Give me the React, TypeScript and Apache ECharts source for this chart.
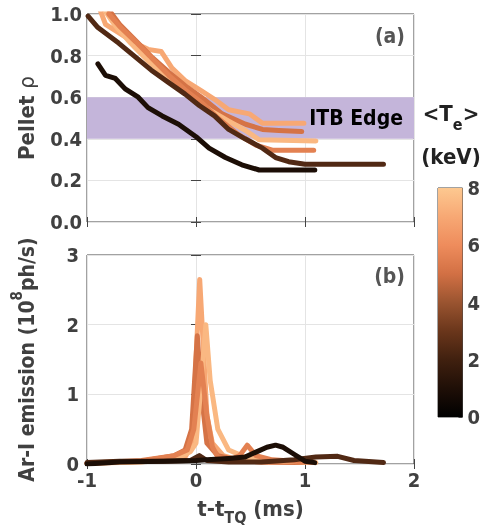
import React, { useEffect, useRef } from "react";
import * as echarts from "echarts";

// ---- data ----
const X_TICKS = { min: -1, max: 2, interval: 1 };
const RHO_AXIS = { min: 0, max: 1, interval: 0.2 };
const EMIS_AXIS = { min: 0, max: 3, interval: 1 };
const TE_AXIS = { min: 0, max: 8, interval: 2 };
const ITB_BAND = [0.4, 0.6];

// colormap (Te 0..8 keV)
const COLORMAP = ["#000000", "#1f0f07", "#40200f", "#6a361b", "#9a5430", "#d27044", "#ee8c5c", "#f7a874", "#fdc890"];

// Te of each shot (keV)
const teValues = [7.0, 5.1, 7.5, 5.6, 2.4, 0.9];
const shotNames = ["A", "B", "C", "D", "E", "F"];

// Pellet rho vs t - t_TQ (ms)
const rhoA = [[-0.88, 1.02], [-0.83, 0.95], [-0.71, 0.91], [-0.56, 0.86], [-0.44, 0.83], [-0.32, 0.82], [-0.22, 0.74], [-0.1, 0.68], [0.05, 0.63], [0.17, 0.59], [0.3, 0.54], [0.49, 0.52], [0.61, 0.475], [0.99, 0.475]];
const rhoB = [[-0.8, 1.02], [-0.7, 0.95], [-0.55, 0.87], [-0.4, 0.79], [-0.25, 0.72], [-0.1, 0.655], [0.05, 0.6], [0.24, 0.52], [0.455, 0.47], [0.61, 0.445], [0.76, 0.44], [0.97, 0.435]];
const rhoC = [[-0.84, 1.02], [-0.75, 0.95], [-0.6, 0.86], [-0.45, 0.78], [-0.3, 0.71], [-0.15, 0.645], [0, 0.585], [0.15, 0.53], [0.3, 0.485], [0.455, 0.44], [0.58, 0.395], [1.1, 0.39]];
const rhoD = [[-0.8, 1.0], [-0.7, 0.94], [-0.55, 0.865], [-0.4, 0.785], [-0.25, 0.705], [-0.1, 0.635], [0.05, 0.575], [0.2, 0.5], [0.39, 0.42], [0.55, 0.37], [0.7, 0.345], [1.08, 0.345]];
const rhoE = [[-0.99, 0.99], [-0.9, 0.935], [-0.71, 0.86], [-0.56, 0.795], [-0.41, 0.73], [-0.25, 0.67], [-0.1, 0.615], [0.03, 0.56], [0.17, 0.51], [0.3, 0.445], [0.45, 0.4], [0.61, 0.355], [0.73, 0.31], [0.85, 0.29], [1.0, 0.278], [1.72, 0.278]];
const rhoF = [[-0.9, 0.76], [-0.83, 0.705], [-0.74, 0.69], [-0.65, 0.64], [-0.53, 0.6], [-0.44, 0.55], [-0.31, 0.51], [-0.16, 0.47], [0.0, 0.41], [0.12, 0.355], [0.27, 0.31], [0.42, 0.275], [0.58, 0.25], [1.09, 0.25]];

// Ar-I emission (1e8 ph/s)
const emisA = [[-1, 0.01], [-0.6, 0.03], [-0.3, 0.05], [-0.1, 0.1], [-0.03, 0.3], [0.0, 1.5], [0.034, 2.65], [0.07, 1.6], [0.1, 0.7], [0.15, 0.3], [0.25, 0.12], [0.4, 0.05], [0.6, 0.03], [0.99, 0.02]];
const emisB = [[-1, 0.01], [-0.5, 0.04], [-0.2, 0.12], [-0.1, 0.2], [-0.04, 0.5], [0.012, 1.84], [0.05, 1.0], [0.1, 0.3], [0.2, 0.12], [0.4, 0.05], [0.6, 0.03], [0.97, 0.02]];
const emisC = [[-1, 0.01], [-0.5, 0.03], [-0.15, 0.1], [-0.05, 0.18], [0.0, 0.3], [0.05, 1.2], [0.09, 2.0], [0.13, 1.2], [0.2, 0.5], [0.3, 0.2], [0.45, 0.1], [0.7, 0.05], [1.1, 0.02]];
const emisD = [[-1, 0.01], [-0.5, 0.05], [-0.2, 0.12], [-0.08, 0.2], [-0.02, 0.5], [0.045, 1.45], [0.1, 0.7], [0.15, 0.25], [0.2, 0.1], [0.3, 0.05], [0.4, 0.12], [0.47, 0.27], [0.55, 0.12], [0.7, 0.06], [0.9, 0.04], [1.08, 0.02]];
const emisE = [[-1, 0.02], [-0.7, 0.04], [-0.3, 0.04], [-0.05, 0.05], [0.03, 0.12], [0.1, 0.05], [0.3, 0.03], [0.6, 0.03], [0.9, 0.06], [1.1, 0.1], [1.3, 0.11], [1.45, 0.05], [1.72, 0.02]];
const emisF = [[-1, 0.0], [-0.7, 0.03], [-0.3, 0.04], [0, 0.05], [0.1, 0.06], [0.3, 0.08], [0.45, 0.1], [0.55, 0.17], [0.65, 0.24], [0.73, 0.27], [0.8, 0.24], [0.9, 0.14], [1.0, 0.04], [1.09, 0.02]];

const rhoSets = [rhoA, rhoB, rhoC, rhoD, rhoE, rhoF];
const emisSets = [emisA, emisB, emisC, emisD, emisE, emisF];
const colorbarValue = [TE_AXIS.max];

const FONT = "'Liberation Sans Narrow', 'DejaVu Sans Condensed', 'Liberation Sans', sans-serif";
const TXT = "#404040";
const TICK_FS = 20;

export default function App() {
  const ref = useRef<HTMLDivElement>(null);
  useEffect(() => {
    if (!ref.current) return;
    const chart = echarts.init(ref.current, null, { renderer: "svg" });
    const colorFor = (te: number) => echarts.color.lerp(te / 8, COLORMAP) as string;

    const tickStyle = { show: true, inside: true, length: 5, lineStyle: { color: "#444", width: 1 } };
    const split = { show: true, lineStyle: { color: "#e4e4e4", width: 1 } };
    const gridBase = { left: 87, right: 69, show: true, borderColor: "#444", borderWidth: 1, backgroundColor: "transparent", containLabel: false };
    const tickLabel = { color: TXT, fontSize: TICK_FS, fontWeight: "bold", fontFamily: FONT };

    const lineSeries: any[] = [];
    rhoSets.forEach((d, i) => {
      lineSeries.push({
        type: "line", name: "rho" + shotNames[i], xAxisIndex: 0, yAxisIndex: 0, data: d,
        showSymbol: false, symbol: "none", clip: true, z: 3,
        lineStyle: { width: 5, color: colorFor(teValues[i]), cap: "round", join: "round" },
      });
    });
    emisSets.forEach((d, i) => {
      lineSeries.push({
        type: "line", name: "emis" + shotNames[i], xAxisIndex: 1, yAxisIndex: 2, data: d,
        showSymbol: false, symbol: "none", clip: true, z: 3,
        lineStyle: { width: 5, color: colorFor(teValues[i]), cap: "round", join: "round" },
      });
    });

    const stops = COLORMAP.map((c, i) => ({ offset: i / (COLORMAP.length - 1), color: c }));

    chart.setOption({
      animation: false,
      textStyle: { fontFamily: FONT },
      grid: [
        { ...gridBase, top: 14, height: 208 },
        { ...gridBase, top: 255, height: 209 },
        { left: 438, width: 26, top: 188, height: 229, show: true, borderColor: "#444", borderWidth: 1 },
      ],
      xAxis: [
        { gridIndex: 0, type: "value", ...X_TICKS, axisLabel: { show: false }, axisTick: tickStyle, axisLine: { show: false }, splitLine: split },
        {
          gridIndex: 1, type: "value", ...X_TICKS, axisTick: tickStyle, axisLine: { show: false }, splitLine: split,
          axisLabel: { ...tickLabel, margin: 6 },
          name: "{m|t-t}{s|TQ}{m| (ms)}", nameLocation: "middle", nameGap: 33,
          nameTextStyle: {
            rich: {
              m: { fontSize: 22, fontWeight: "bold", color: TXT, fontFamily: FONT, verticalAlign: "top", lineHeight: 28 },
              s: { fontSize: 16, fontWeight: "bold", color: TXT, fontFamily: FONT, verticalAlign: "bottom", lineHeight: 28 },
            },
          },
        },
        { gridIndex: 2, type: "category", data: ["Te"], show: false, boundaryGap: true },
        { gridIndex: 0, type: "value", position: "top", ...X_TICKS, axisLabel: { show: false }, axisTick: tickStyle, axisLine: { show: false }, splitLine: { show: false } },
        { gridIndex: 1, type: "value", position: "top", ...X_TICKS, axisLabel: { show: false }, axisTick: tickStyle, axisLine: { show: false }, splitLine: { show: false } },
      ],
      yAxis: [
        {
          gridIndex: 0, type: "value", ...RHO_AXIS, axisTick: tickStyle, axisLine: { show: false }, splitLine: split,
          axisLabel: { ...tickLabel, margin: 5, formatter: (v: number) => v.toFixed(1) },
          name: "{b|Pellet }{r|ρ}", nameLocation: "middle", nameGap: 50,
          nameTextStyle: {
            rich: {
              b: { fontSize: 22, fontWeight: "bold", color: TXT, fontFamily: FONT },
              r: { fontSize: 22, fontWeight: "normal", color: TXT, fontFamily: FONT },
            },
          },
        },
        { gridIndex: 0, type: "value", position: "right", ...RHO_AXIS, axisLabel: { show: false }, axisTick: tickStyle, axisLine: { show: false }, splitLine: { show: false } },
        {
          gridIndex: 1, type: "value", ...EMIS_AXIS, axisTick: tickStyle, axisLine: { show: false }, splitLine: split,
          axisLabel: { ...tickLabel, margin: 8 },
          name: "{m|Ar-I emission (10}{p|8}{m|ph/s)}", nameLocation: "middle", nameGap: 50,
          nameTextStyle: {
            rich: {
              m: { fontSize: 21, fontWeight: "bold", color: TXT, fontFamily: FONT, verticalAlign: "bottom", lineHeight: 28 },
              p: { fontSize: 15, fontWeight: "bold", color: TXT, fontFamily: FONT, verticalAlign: "top", lineHeight: 28 },
            },
          },
        },
        { gridIndex: 1, type: "value", position: "right", ...EMIS_AXIS, axisLabel: { show: false }, axisTick: tickStyle, axisLine: { show: false }, splitLine: { show: false } },
        {
          gridIndex: 2, type: "value", position: "right", ...TE_AXIS, splitLine: { show: false }, axisLine: { show: false },
          axisTick: { show: true, inside: true, length: 4, lineStyle: { color: "#444" } },
          axisLabel: { ...tickLabel, margin: 5 },
        },
      ],
      series: [
        {
          type: "line", name: "band", xAxisIndex: 0, yAxisIndex: 0, data: [], z: 1,
          markArea: {
            silent: true,
            itemStyle: { color: "#c4b5da", opacity: 1 },
            label: { show: true, position: "insideRight", distance: 11, color: "#000", fontSize: 21, fontWeight: "bold", fontFamily: FONT },
            data: [[{ name: "ITB Edge", yAxis: ITB_BAND[0], xAxis: X_TICKS.min }, { yAxis: ITB_BAND[1], xAxis: X_TICKS.max }]],
          },
        },
        ...lineSeries,
        {
          type: "bar", name: "colorbar", xAxisIndex: 2, yAxisIndex: 4, data: colorbarValue, barWidth: "100%", barCategoryGap: "0%",
          itemStyle: { color: new echarts.graphic.LinearGradient(0, 1, 0, 0, stops) }, silent: true,
        },
      ],
      graphic: [
        { type: "text", x: 405, y: 36, style: { text: "(a)", align: "right", verticalAlign: "middle", fill: "#555", fontSize: 21, fontWeight: "bold", fontFamily: FONT } },
        { type: "text", x: 405, y: 276, style: { text: "(b)", align: "right", verticalAlign: "middle", fill: "#555", fontSize: 21, fontWeight: "bold", fontFamily: FONT } },
        {
          type: "text", x: 451, y: 117,
          style: {
            text: "{m|<T}{s|e}{m|>}", align: "center", verticalAlign: "middle",
            rich: {
              m: { fontSize: 22, fontWeight: "bold", fill: "#222", fontFamily: FONT, verticalAlign: "top", lineHeight: 30 },
              s: { fontSize: 16, fontWeight: "bold", fill: "#222", fontFamily: FONT, verticalAlign: "bottom", lineHeight: 30 },
            },
          },
        },
        { type: "text", x: 451, y: 156, style: { text: "(keV)", align: "center", verticalAlign: "middle", fill: "#222", fontSize: 22, fontWeight: "bold", fontFamily: FONT } },
      ],
    });
    return () => chart.dispose();
  }, []);
  return <div ref={ref} style={{ position: "fixed", left: 0, top: 0, width: 483, height: 529 }} />;
}
